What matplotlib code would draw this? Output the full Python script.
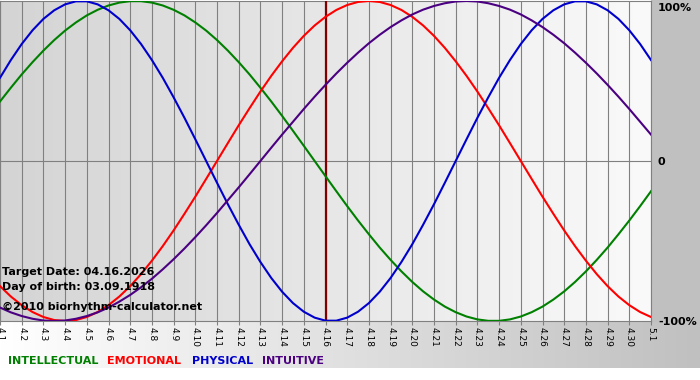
import matplotlib
matplotlib.use("Agg")
import matplotlib.pyplot as plt
import numpy as np
from matplotlib.colors import LinearSegmentedColormap

# ---- data (every half day from 4.1 to 5.1) ----
day_labels = [f"4.{d}" for d in range(1, 31)] + ["5.1"]
target_label = "4.16"
sample_days = np.arange(0, 30.5, 0.5)

physical = [0.520, 0.631, 0.731, 0.817, 0.888, 0.942, 0.979, 0.998, 0.998, 0.979,
            0.942, 0.888, 0.817, 0.731, 0.631, 0.520, 0.398, 0.270, 0.136, 0.000,
            -0.136, -0.270, -0.398, -0.520, -0.631, -0.731, -0.817, -0.888, -0.942, -0.979,
            -0.998, -0.998, -0.979, -0.942, -0.888, -0.817, -0.731, -0.631, -0.520, -0.398,
            -0.270, -0.136, 0.000, 0.136, 0.270, 0.398, 0.520, 0.631, 0.731, 0.817,
            0.888, 0.942, 0.979, 0.998, 0.998, 0.979, 0.942, 0.888, 0.817, 0.731, 0.631]
emotional = [-0.782, -0.847, -0.901, -0.944, -0.975, -0.994, -1.000, -0.994, -0.975, -0.944,
             -0.901, -0.847, -0.782, -0.707, -0.623, -0.532, -0.434, -0.330, -0.223, -0.112,
             0.000, 0.112, 0.223, 0.330, 0.434, 0.532, 0.623, 0.707, 0.782, 0.847,
             0.901, 0.944, 0.975, 0.994, 1.000, 0.994, 0.975, 0.944, 0.901, 0.847,
             0.782, 0.707, 0.623, 0.532, 0.434, 0.330, 0.223, 0.112, 0.000, -0.112,
             -0.223, -0.330, -0.434, -0.532, -0.623, -0.707, -0.782, -0.847, -0.901, -0.944, -0.975]
intellectual = [0.372, 0.458, 0.541, 0.618, 0.690, 0.756, 0.815, 0.866, 0.910, 0.945,
                0.972, 0.990, 0.999, 0.999, 0.990, 0.972, 0.945, 0.910, 0.866, 0.815,
                0.756, 0.690, 0.618, 0.541, 0.458, 0.372, 0.282, 0.189, 0.095, 0.000,
                -0.095, -0.189, -0.282, -0.372, -0.458, -0.541, -0.618, -0.690, -0.756, -0.815,
                -0.866, -0.910, -0.945, -0.972, -0.990, -0.999, -0.999, -0.990, -0.972, -0.945,
                -0.910, -0.866, -0.815, -0.756, -0.690, -0.618, -0.541, -0.458, -0.372, -0.282, -0.189]
intuitive = [-0.916, -0.946, -0.969, -0.986, -0.997, -1.000, -0.997, -0.986, -0.969, -0.946,
             -0.916, -0.879, -0.837, -0.789, -0.736, -0.677, -0.614, -0.547, -0.476, -0.402,
             -0.325, -0.245, -0.165, -0.083, 0.000, 0.083, 0.165, 0.245, 0.325, 0.402,
             0.476, 0.547, 0.614, 0.677, 0.736, 0.789, 0.837, 0.879, 0.916, 0.946,
             0.969, 0.986, 0.997, 1.000, 0.997, 0.986, 0.969, 0.946, 0.916, 0.879,
             0.837, 0.789, 0.736, 0.677, 0.614, 0.547, 0.476, 0.402, 0.325, 0.245, 0.165]

series = [("INTELLECTUAL", intellectual, "#008000"),
          ("EMOTIONAL", emotional, "#ff0000"),
          ("PHYSICAL", physical, "#0000cc"),
          ("INTUITIVE", intuitive, "#4b0082")]

info_lines = ["Target Date: 04.16.2026", "Day of birth: 03.09.1918",
              "\u00a92010 biorhythm-calculator.net"]
right_labels = [(1, "100%"), (0, "0"), (-1, "-100%")]

W, H = 700, 380
fig = plt.figure(figsize=(7.0, 3.8), dpi=100)
fig.patch.set_facecolor("white")

# background axes in pixel coordinates
bg = fig.add_axes([0, 0, 1, 1])
bg.set_xlim(0, W)
bg.set_ylim(H, 0)
bg.axis("off")
grad = np.linspace(0, 1, 256).reshape(1, -1)
cm_bottom = LinearSegmentedColormap.from_list("b", ["#ffffff", "#c0c0c0"])
bg.imshow(grad, extent=[0, W, 368, 321], cmap=cm_bottom, aspect="auto", zorder=0)
bg.add_patch(plt.Rectangle((651, 0), W - 651, 321, color="#c0c0c0", zorder=1))

# main plot axes
x0, x1, ytop, ybot = 0, 651, 1, 321
ax = fig.add_axes([x0 / W, 1 - ybot / H, (x1 - x0) / W, (ybot - ytop) / H])
day_pos = np.arange(len(day_labels))
ax.set_xlim(day_pos[0], day_pos[-1])
ax.set_ylim(-1, 1)
cm_plot = LinearSegmentedColormap.from_list("p", ["#d4d4d4", "#fafafa"])
ax.imshow(grad, extent=[day_pos[0], day_pos[-1], -1, 1], cmap=cm_plot, aspect="auto", zorder=0)

for d in day_pos:
    ax.axvline(d, color="#808080", lw=0.8, zorder=1)
ax.axhline(0, color="#808080", lw=0.8, zorder=1)
ax.axvline(day_labels.index(target_label), color="#800000", lw=1.6, zorder=3)

for name, vals, col in series:
    ax.plot(sample_days, vals, color=col, lw=1.5, zorder=4, solid_joinstyle="round")

for s in ax.spines.values():
    s.set_color("#808080")
    s.set_linewidth(0.8)
ax.set_yticks([])
ax.set_xticks(day_pos)
ax.set_xticklabels(day_labels, rotation=-90, fontsize=6.5, family="DejaVu Sans")
ax.tick_params(axis="x", direction="out", length=3, color="#808080", pad=1)

# right-hand labels
ypix_right = {1: 8, 0: 162, -1: 322}
for yv, lab in right_labels:
    fig.text(658 / W, 1 - ypix_right[yv] / H, lab, fontsize=8, fontweight="bold",
             va="center", ha="left")

# info text
for t, ypix in zip(info_lines, [272, 287, 307]):
    fig.text(2 / W, 1 - ypix / H, t, fontsize=8, fontweight="bold", va="center", ha="left",
             zorder=6)

# legend text
xs = [8, 107, 192, 262]
for (name, vals, col), xp in zip(series, xs):
    fig.text(xp / W, 1 - 361 / H, name, color=col, fontsize=8, fontweight="bold",
             va="center", ha="left")

fig.savefig("out.png", dpi=100)
